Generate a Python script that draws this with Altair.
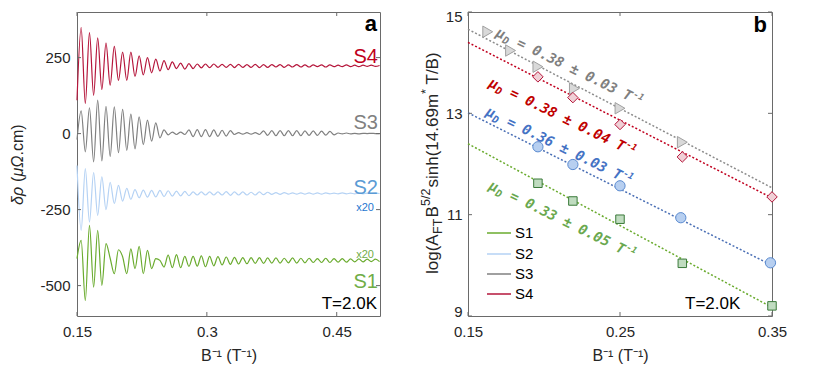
import altair as alt
import pandas as pd

# ---------------- panel a : extrema of the oscillation traces ----------------
EXT_X = [0.1500, 0.1548, 0.1596, 0.1644, 0.1692, 0.1739, 0.1787, 0.1835, 0.1883, 0.1931,
         0.1979, 0.2027, 0.2075, 0.2122, 0.2170, 0.2218, 0.2266, 0.2314, 0.2362, 0.2410,
         0.2458, 0.2505, 0.2553, 0.2601, 0.2649, 0.2697, 0.2745, 0.2793, 0.2841, 0.2889,
         0.2936, 0.2984, 0.3032, 0.3080, 0.3128, 0.3176, 0.3224, 0.3272, 0.3319, 0.3367,
         0.3415, 0.3463, 0.3511, 0.3559, 0.3607, 0.3655, 0.3702, 0.3750, 0.3798, 0.3846,
         0.3894, 0.3942, 0.3990, 0.4038, 0.4086, 0.4133, 0.4181, 0.4229, 0.4277, 0.4325,
         0.4373, 0.4421, 0.4469, 0.4516, 0.4564, 0.4612, 0.4660, 0.4708, 0.4756, 0.4804,
         0.4852, 0.4899, 0.4947, 0.4995]

S1_Y = [-411, -351, -549, -302, -505, -318, -499, -362, -410, -461,
        -382, -405, -461, -379, -444, -371, -461, -384, -444, -411,
        -417, -439, -400, -441, -398, -441, -404, -437, -404, -436,
        -402, -438, -404, -435, -405, -432, -406, -430, -407, -429,
        -408, -428, -408, -427, -408, -427, -409, -426, -409, -426,
        -410, -425, -409, -426, -410, -425, -410, -424, -411, -424,
        -410, -424, -411, -423, -411, -423, -412, -422, -412, -422,
        -413, -421, -413, -421]

S2_Y = [-105, -318, -115, -291, -128, -269, -142, -250, -160, -230,
        -170, -222, -180, -216, -184, -211, -186, -209, -187, -208,
        -187, -207, -188, -206, -189, -205, -190, -204, -192, -202,
        -192, -202, -192, -202, -192, -202, -191, -203, -192, -202,
        -192, -202, -193, -202, -192, -201, -193, -200, -194, -200,
        -194, -199, -195, -199, -195, -199, -195, -199, -195, -199,
        -195, -198, -196, -198, -195, -198, -196, -198, -196, -198,
        -196, -197, -196, -197]

S3_Y = [-20, 75, -60, 85, -93, 110, -90, 90, -75, 88,
        -63, 80, -55, 64, -50, 55, -36, 44, -25, 35,
        -14, 12, -4, 5, -3, 5, -3, 12, -10, 13,
        -10, 13, -10, 12, -9, 11, -8, 10, -3, 3,
        -2, 3, -2, 3, -3, 9, -6, 10, -7, 10,
        -7, 10, -7, 10, -7, 9, -6, 9, -6, 8,
        -5, 7, -4, 2, -1, 2, -1, 1, -1, 1,
        0, 1, 0, 0]

S4_Y = [110, 349, 99, 332, 126, 315, 145, 298, 159, 287,
        175, 268, 175, 268, 188, 256, 193, 250, 200, 245,
        206, 240, 210, 236, 214, 232, 212, 230, 214, 229,
        216, 229, 217, 229, 218, 228, 218, 228, 217, 228,
        218, 227, 218, 228, 217, 227, 218, 227, 219, 227,
        218, 226, 219, 227, 219, 226, 219, 226, 220, 226,
        219, 226, 220, 225, 220, 226, 220, 225, 220, 225,
        221, 225, 221, 224]

SERIES = ["S1", "S2", "S3", "S4"]
XTICKS_A = [0.15, 0.3, 0.45]
YTICKS_A = [-500, -250, 0, 250]

# ---------------- panel b : Dingle plot ----------------
X_S1 = [0.196, 0.219, 0.250, 0.291, 0.350]
Y_S1 = [11.62, 11.27, 10.91, 10.04, 9.20]
X_S2 = [0.196, 0.219, 0.250, 0.290, 0.349]
Y_S2 = [12.34, 11.99, 11.57, 10.94, 10.05]
X_S3 = [0.163, 0.178, 0.196, 0.220, 0.250, 0.291]
Y_S3 = [14.61, 14.24, 13.92, 13.49, 13.10, 12.43]
X_S4 = [0.196, 0.219, 0.250, 0.291, 0.350]
Y_S4 = [13.72, 13.31, 12.78, 12.14, 11.35]
FIT_X = [0.15, 0.35]
FIT_S1 = [12.40, 9.17]
FIT_S2 = [13.01, 10.00]
FIT_S3 = [14.66, 11.53]
FIT_S4 = [14.40, 11.33]
MU_TEXT = ["0.33 ± 0.05", "0.36 ± 0.03", "0.38 ± 0.03", "0.38 ± 0.04"]
MU_X = [0.1632, 0.1612, 0.1678, 0.1632]
MU_Y = [11.51, 12.97, 14.53, 13.54]
XTICKS_B = [0.15, 0.25, 0.35]
YTICKS_B = [9, 11, 13, 15]

LABELS_A = ["S4", "S3", "S2", "x20", "x20", "S1", "T=2.0K", "a"]
YTITLE_A = ["δρ", "(", "μΩ", ".cm)"]
TEMP_B = "T=2.0K"
PANEL_B = "b"
YTITLE_B = ["log(A", "FT", "B", "5/2", "sinh(14.69m", "*", "T/B)"]
XTITLE = "B⁻¹ (T⁻¹)"

# ---------------- styles ----------------
FONT = "Liberation Sans"
MONO = "DejaVu Sans Mono"
FRAME = "#6a6a6a"
TXT = "#262626"
LINE_COLORS = ["#6aab2e", "#b5d2f4", "#808080", "#b5163b"]
W, H = 303, 304
W2, H2 = 304, 304
MINUS_FIX = "replace(datum.label, '\u2212', '-')"

xa = alt.Scale(domain=[0.15, 0.5], nice=False, zero=False)
ya = alt.Scale(domain=[-600, 400], nice=False, zero=False)
xb = alt.Scale(domain=[0.15, 0.35], nice=False, zero=False)
yb = alt.Scale(domain=[9, 15], nice=False, zero=False)

common_ax = dict(ticks=False, domain=False, grid=False)
AX_XA = alt.Axis(values=XTICKS_A, format=".2~f", title=XTITLE, labelPadding=8, titlePadding=8,
                 labelFlush=False, **common_ax)
AX_YA = alt.Axis(values=YTICKS_A, format="d", labelExpr=MINUS_FIX, title="", labelPadding=7,
                 labelFlush=False, **common_ax)
AX_XB = alt.Axis(values=XTICKS_B, format=".2f", title=XTITLE, labelPadding=8, titlePadding=8,
                 labelFlush=False, **common_ax)
AX_YB = alt.Axis(values=YTICKS_B, format="d", title="", labelPadding=6, labelFlush=True,
                 labelFlushOffset=3, **common_ax)


def inward_ticks(xvals, yvals, xs, ys, axx, axy, w, h, L=4):
    xd = pd.DataFrame({"x": xvals})
    yd = pd.DataFrame({"y": yvals})
    kw = dict(color=FRAME, strokeWidth=1)
    X = alt.X("x:Q", scale=xs, axis=axx)
    Y = alt.Y("y:Q", scale=ys, axis=axy)
    return [
        alt.Chart(xd).mark_rule(**kw).encode(x=X, y=alt.value(h), y2=alt.value(h - L)),
        alt.Chart(xd).mark_rule(**kw).encode(x=X, y=alt.value(0), y2=alt.value(L)),
        alt.Chart(yd).mark_rule(**kw).encode(y=Y, x=alt.value(0), x2=alt.value(L)),
        alt.Chart(yd).mark_rule(**kw).encode(y=Y, x=alt.value(w), x2=alt.value(w - L)),
    ]


def label(text, x, y, size, color, align="right", weight="normal", font=FONT, angle=0, style="normal"):
    return alt.Chart(pd.DataFrame({"t": [text]})).mark_text(
        align=align, baseline="alphabetic", fontSize=size, color=color, fontWeight=weight, font=font,
        angle=angle, fontStyle=style
    ).encode(text="t:N", x=alt.value(x), y=alt.value(y))


# ---------------- panel a ----------------
rows = []
for s, ys_ in zip(SERIES, [S1_Y, S2_Y, S3_Y, S4_Y]):
    for xv, yv in zip(EXT_X, ys_):
        rows.append({"x": xv, "y": yv, "series": s})
traces = pd.DataFrame(rows)

lines_a = alt.Chart(traces).mark_line(strokeWidth=1.2, interpolate="monotone").encode(
    x=alt.X("x:Q", scale=xa, axis=AX_XA),
    y=alt.Y("y:Q", scale=ya, axis=AX_YA),
    color=alt.Color("series:N", scale=alt.Scale(domain=SERIES, range=LINE_COLORS), legend=None),
)

label_colors = ["#c00020", "#808080", "#5b9bd5", "#1f77d0", "#70ad47", "#70ad47", "#000000", "#000000"]
label_x = [301, 301, 301, 297, 297, 301, 300, 300]
label_y = [51, 117, 182, 199, 246, 276, 297, 19]
label_size = [20, 20, 20, 11, 11, 20, 17, 22]
label_w = ["normal"] * 7 + ["bold"]
texts_a = [label(t, x, y, s, c, weight=wt) for t, x, y, s, c, wt in
           zip(LABELS_A, label_x, label_y, label_size, label_colors, label_w)]

# y title of panel a in pieces (italic symbols)
ya_pos = [193, 170, 164.5, 143.5]
ya_style = ["italic", "normal", "italic", "normal"]
ytitle_a = [label(t, -54, p, 16, TXT, align="left", angle=270, style=st)
            for t, p, st in zip(YTITLE_A, ya_pos, ya_style)]

panel_a = alt.layer(lines_a, *texts_a, *ytitle_a,
                    *inward_ticks(XTICKS_A, YTICKS_A, xa, ya, AX_XA, AX_YA, W, H)).properties(width=W, height=H)

# ---------------- panel b ----------------
fit_colors = ["#6aab2e", "#4a6fb5", "#8c8c8c", "#c0001f"]
XB = alt.X("x:Q", scale=xb, axis=AX_XB)
YB = alt.Y("y:Q", scale=yb, axis=AX_YB)
fits = []
for fy, col in zip([FIT_S1, FIT_S2, FIT_S3, FIT_S4], fit_colors):
    d = pd.DataFrame({"x": FIT_X, "y": fy})
    fits.append(alt.Chart(d).mark_line(strokeDash=[2, 2], strokeWidth=1.5, color=col).encode(x=XB, y=YB))

marker_specs = [
    (X_S3, Y_S3, "triangle-right", "#d9d9d9", "#a0a0a0", 130),
    (X_S4, Y_S4, "diamond", "#f0d0d6", "#b5163b", 110),
    (X_S2, Y_S2, "circle", "#b7cff0", "#5b8bd0", 105),
    (X_S1, Y_S1, "square", "#c0dcc0", "#3a7a3a", 72),
]
markers = []
for mx, my, shp, fill, stroke, size in marker_specs:
    d = pd.DataFrame({"x": mx, "y": my})
    markers.append(alt.Chart(d).mark_point(shape=shp, filled=True, fill=fill, stroke=stroke,
                                           strokeWidth=1, size=size, opacity=1).encode(x=XB, y=YB))

ann_colors = ["#6aa84f", "#4472c4", "#7f7f7f", "#c00000"]
ANG = 26
ann = []
for t, ax, ay, col in zip(MU_TEXT, MU_X, MU_Y, ann_colors):
    d = pd.DataFrame({"x": [ax], "y": [ay]})
    base = dict(angle=ANG, align="left", baseline="alphabetic", font=MONO, fontStyle="italic",
                fontWeight="bold", color=col)
    pieces = [("μ", 14, 0, 0), ("D", 10, 8.5, 3), ("= " + t + " T", 14, 23, 0), ("-1", 9, 150, -6)]
    for txt, fs, dx, dy in pieces:
        ann.append(alt.Chart(d).mark_text(text=txt, fontSize=fs, dx=dx, dy=dy, **base).encode(x=XB, y=YB))

# legend (drawn in panel b)
leg = []
leg_y = [221, 242, 262, 282]
for s, col, ly in zip(SERIES, LINE_COLORS, leg_y):
    leg.append(alt.Chart(pd.DataFrame({"a": [0]})).mark_rule(color=col, strokeWidth=1.5).encode(
        x=alt.value(19), x2=alt.value(43), y=alt.value(ly)))
    leg.append(alt.Chart(pd.DataFrame({"t": [s]})).mark_text(
        align="left", baseline="middle", fontSize=15, font=FONT, color="#000000").encode(
        text="t:N", x=alt.value(47), y=alt.value(ly)))

# y title of panel b, composed of pieces (sub/superscripts)
yt_y = [262, 222, 205.5, 194, 175.5, 82, 72.5]
yt_x = [-30, -26, -30, -38, -30, -38, -30]
yt_fs = [17, 12.5, 17, 12.5, 17, 12.5, 17]
ytitle = [label(t, px, py, fs, TXT, align="left", angle=270)
          for t, px, py, fs in zip(YTITLE_B, yt_x, yt_y, yt_fs)]

texts_b = [label(PANEL_B, 299, 20, 22, "#000000", weight="bold"),
           label(TEMP_B, 217, 297, 17, "#000000", align="left")]

panel_b = alt.layer(*fits, *markers, *ann, *leg, *ytitle, *texts_b,
                    *inward_ticks(XTICKS_B, YTICKS_B, xb, yb, AX_XB, AX_YB, W2, H2)).properties(width=W2, height=H2)

chart = alt.hconcat(panel_a, panel_b, spacing=88, bounds="flush").properties(
    padding={"left": 1, "top": 0, "right": 0, "bottom": 0}
).configure_view(stroke=FRAME, strokeWidth=1).configure_axis(
    labelFont=FONT, labelFontSize=15, labelColor=TXT, titleFont=FONT, titleFontSize=16,
    titleColor=TXT, titleFontWeight="normal"
)

chart.save("out.html", embed_options={"renderer": "svg", "actions": False})
